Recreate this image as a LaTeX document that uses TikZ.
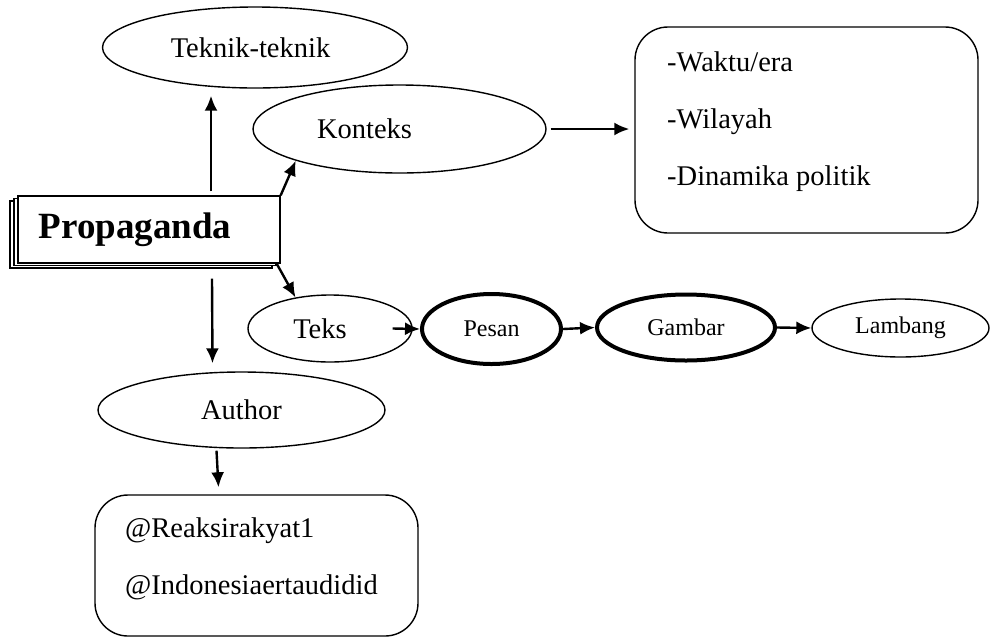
\documentclass[tikz,border=0pt]{standalone}
\usepackage{fontspec}
\setmainfont{Liberation Serif}
\usetikzlibrary{positioning,calc,arrows.meta,shapes.geometric}
\tikzset{oval/.style={draw,ellipse,line width=1.4pt,inner sep=0pt,font=\fontsize{28.5}{34}\selectfont}  }
\tikzset{boldoval/.style={oval,line width=4pt,font=\fontsize{24}{29}\selectfont}  }
\tikzset{rbox/.style={draw,rounded corners=33pt,line width=1.4pt}  }
\tikzset{listtxt/.style={align=left,inner sep=0pt,font=\fontsize{28.5}{57}\selectfont}  }
\tikzset{propbox/.style={draw,fill=white,line width=1.4pt,
    preaction={draw,fill=white,line width=1.4pt,transform canvas={shift={(-8pt,-5pt)}}},
    preaction={draw,fill=white,line width=1.4pt,transform canvas={shift={(-4pt,-2.5pt)}}},
    font=\fontsize{37}{44}\selectfont\bfseries}  }
\tikzset{>={Latex[length=15pt,width=13pt]}}
\tikzset{arr/.style={->,line width=2.4pt}  }

\begin{document}
\begin{tikzpicture}[x=1pt,y=-1pt]
	\useasboundingbox (0,0) rectangle (992,638);

		\node[oval,minimum width=305pt,minimum height=81pt] (tek) at (255,47.5) {Teknik-teknik\kern9pt};
		\node[oval,minimum width=293pt,minimum height=88pt] (kon) at (399.5,129) {Konteks\kern70pt};
		\node[rbox,minimum width=343pt,minimum height=206pt] (ctx) at (806.5,130) {};
		\node[listtxt,anchor=west] (ctxlist) at (667,122) {-Waktu/era\\-Wilayah\\-Dinamika politik};

		\node[propbox,minimum width=262pt,minimum height=67pt] (prop) at (149,229.5) {Propaganda\kern28pt};

		\node[oval,minimum width=164pt,minimum height=67pt] (teks) at (330,328.5) {Teks\kern20pt};
		\node[boldoval,minimum width=139pt,minimum height=70pt] (pes) at (491.5,329) {Pesan};
		\node[boldoval,minimum width=178pt,minimum height=66pt] (gam) at (686,327.5) {Gambar};
		\node[oval,minimum width=177pt,minimum height=58pt,font=\fontsize{24}{29}\selectfont] (lam) at (900.5,328) {Lambang};

		\node[oval,minimum width=287pt,minimum height=76pt] (aut) at (241.5,410) {Author};
		\node[rbox,minimum width=323pt,minimum height=141pt] (acc) at (256.5,565.5) {};
		\node[listtxt,anchor=west] (acclist) at (125,559) {@Reaksirakyat1\\@Indonesiaertaudidid};

		\draw[arr] ([shift={(62pt,4pt)}]prop.north) -- ([shift={(-44pt,-7pt)}]tek.south);
		\draw[arr] (prop.north east) -- (kon.-163);
		\draw[arr] ([xshift=4pt]kon.east) -- ([xshift=-5pt]kon.east -| ctx.west);
		\draw[arr] ([xshift=-4pt]prop.south east) -- (teks.138);
		\draw[arr] ([shift={(63pt,-15pt)}]prop.south) -- ([shift={(-29pt,8pt)}]aut.north);
		\draw[arr] ([shift={(-25pt,-2pt)}]aut.south) -- ([shift={(-38pt,7pt)}]acc.north);
		\draw[arr] ([xshift=-20pt]teks.east) -- (pes.west);
		\draw[arr] (pes.east) -- (gam.west);
		\draw[arr] (gam.east) -- (lam.west);
\end{tikzpicture}
\end{document}
